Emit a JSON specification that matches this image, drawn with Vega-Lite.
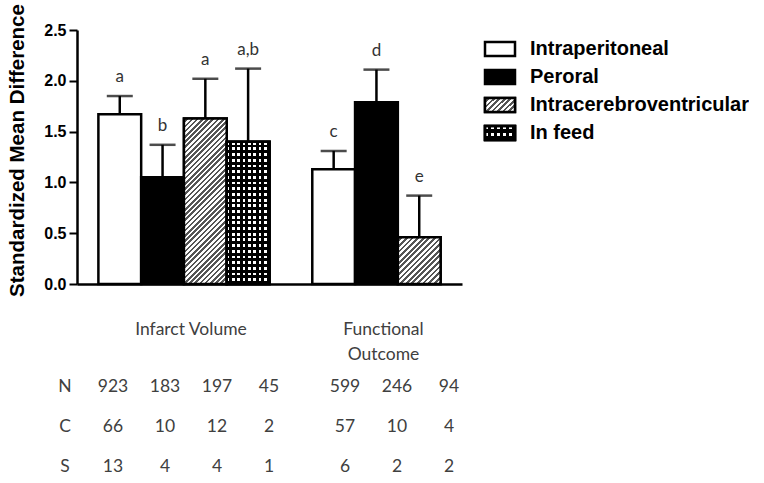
{
"$schema": "https://vega.github.io/schema/vega-lite/v6.json",
"padding": {"left": 7, "top": 3, "right": 0, "bottom": 0},
"background": "white",
"datasets": {
 "smd": [
  {"bar":"IV-IP","group":"Infarct Volume","route":"Intraperitoneal","smd":1.67,"upper":1.85,"letter":"a","N":923,"C":66,"S":13},
  {"bar":"IV-PO","group":"Infarct Volume","route":"Peroral","smd":1.05,"upper":1.37,"letter":"b","N":183,"C":10,"S":4},
  {"bar":"IV-ICV","group":"Infarct Volume","route":"Intracerebroventricular","smd":1.63,"upper":2.02,"letter":"a","N":197,"C":12,"S":4},
  {"bar":"IV-IF","group":"Infarct Volume","route":"In feed","smd":1.40,"upper":2.12,"letter":"a,b","N":45,"C":2,"S":1},
  {"bar":"FO-IP","group":"Functional Outcome","route":"Intraperitoneal","smd":1.13,"upper":1.31,"letter":"c","N":599,"C":57,"S":6},
  {"bar":"FO-PO","group":"Functional Outcome","route":"Peroral","smd":1.79,"upper":2.11,"letter":"d","N":246,"C":10,"S":2},
  {"bar":"FO-ICV","group":"Functional Outcome","route":"Intracerebroventricular","smd":0.46,"upper":0.87,"letter":"e","N":94,"C":4,"S":2}
 ],
 "headers": [
  {"group":"Infarct Volume","header":"Infarct Volume"},
  {"group":"Functional Outcome","header":"Functional\nOutcome"}
 ]
},
"columns": 2,
"spacing": {"row": 63, "column": -52},
"bounds": "flush",
"align": "none",
"resolve": {"scale": {"xOffset": "independent"}},
"concat": [
 {
  "width": 385,
  "height": 254,
  "data": {"name": "smd"},
  "encoding": {
   "x": {"field": "bar", "type": "nominal",
     "scale": {"type": "band", "domain": ["IV-IP","IV-PO","IV-ICV","IV-IF","gap","FO-IP","FO-PO","FO-ICV"], "paddingInner": 0, "paddingOuter": 0.5},
     "axis": {"title": null, "labels": false, "ticks": false, "domain": true, "domainColor": "#000", "domainWidth": 2.5, "grid": false}},
   "y": {"field": "smd", "type": "quantitative",
     "scale": {"domain": [0, 2.5], "nice": false},
     "axis": {"title": "Standardized Mean Difference", "values": [0, 0.5, 1, 1.5, 2, 2.5], "format": ".1f", "grid": false,
       "domainColor": "#000", "domainWidth": 2.5, "tickColor": "#000", "tickWidth": 2, "tickSize": 8,
       "labelFont": "Liberation Sans", "labelFontWeight": "bold", "labelFontSize": 16, "labelColor": "#000", "labelPadding": 3,
       "titleFont": "Liberation Sans", "titleFontWeight": "bold", "titleFontSize": 20.5, "titleColor": "#000", "titlePadding": 16, "titleY": 120}}
  },
  "layer": [
   {
    "mark": {"type": "bar", "stroke": "#000", "strokeWidth": 2.5},
    "encoding": {
     "fill": {"field": "route", "type": "nominal",
       "scale": {"domain": ["Intraperitoneal","Peroral","Intracerebroventricular","In feed"], "range": ["#ffffff","#000000","#ffffff","#000000"]},
       "legend": null}
    }
   },
   {
    "transform": [{"filter": "datum.bar === 'IV-ICV'"}],
    "mark": {"type": "bar", "stroke": "#000", "strokeWidth": 2.5,
     "fill": {"gradient": "linear", "x1": 0, "y1": 0, "x2": 0.3047, "y2": 1.1796, "stops": [
      {"offset":0,"color":"#fff"},
      {"offset":0.0125,"color":"#fff"},{"offset":0.0125,"color":"#555"},
      {"offset":0.025,"color":"#555"},{"offset":0.025,"color":"#fff"},
      {"offset":0.0375,"color":"#fff"},{"offset":0.0375,"color":"#555"},
      {"offset":0.05,"color":"#555"},{"offset":0.05,"color":"#fff"},
      {"offset":0.0625,"color":"#fff"},{"offset":0.0625,"color":"#555"},
      {"offset":0.075,"color":"#555"},{"offset":0.075,"color":"#fff"},
      {"offset":0.0875,"color":"#fff"},{"offset":0.0875,"color":"#555"},
      {"offset":0.1,"color":"#555"},{"offset":0.1,"color":"#fff"},
      {"offset":0.1125,"color":"#fff"},{"offset":0.1125,"color":"#555"},
      {"offset":0.125,"color":"#555"},{"offset":0.125,"color":"#fff"},
      {"offset":0.1375,"color":"#fff"},{"offset":0.1375,"color":"#555"},
      {"offset":0.15,"color":"#555"},{"offset":0.15,"color":"#fff"},
      {"offset":0.1625,"color":"#fff"},{"offset":0.1625,"color":"#555"},
      {"offset":0.175,"color":"#555"},{"offset":0.175,"color":"#fff"},
      {"offset":0.1875,"color":"#fff"},{"offset":0.1875,"color":"#555"},
      {"offset":0.2,"color":"#555"},{"offset":0.2,"color":"#fff"},
      {"offset":0.2125,"color":"#fff"},{"offset":0.2125,"color":"#555"},
      {"offset":0.225,"color":"#555"},{"offset":0.225,"color":"#fff"},
      {"offset":0.2375,"color":"#fff"},{"offset":0.2375,"color":"#555"},
      {"offset":0.25,"color":"#555"},{"offset":0.25,"color":"#fff"},
      {"offset":0.2625,"color":"#fff"},{"offset":0.2625,"color":"#555"},
      {"offset":0.275,"color":"#555"},{"offset":0.275,"color":"#fff"},
      {"offset":0.2875,"color":"#fff"},{"offset":0.2875,"color":"#555"},
      {"offset":0.3,"color":"#555"},{"offset":0.3,"color":"#fff"},
      {"offset":0.3125,"color":"#fff"},{"offset":0.3125,"color":"#555"},
      {"offset":0.325,"color":"#555"},{"offset":0.325,"color":"#fff"},
      {"offset":0.3375,"color":"#fff"},{"offset":0.3375,"color":"#555"},
      {"offset":0.35,"color":"#555"},{"offset":0.35,"color":"#fff"},
      {"offset":0.3625,"color":"#fff"},{"offset":0.3625,"color":"#555"},
      {"offset":0.375,"color":"#555"},{"offset":0.375,"color":"#fff"},
      {"offset":0.3875,"color":"#fff"},{"offset":0.3875,"color":"#555"},
      {"offset":0.4,"color":"#555"},{"offset":0.4,"color":"#fff"},
      {"offset":0.4125,"color":"#fff"},{"offset":0.4125,"color":"#555"},
      {"offset":0.425,"color":"#555"},{"offset":0.425,"color":"#fff"},
      {"offset":0.4375,"color":"#fff"},{"offset":0.4375,"color":"#555"},
      {"offset":0.45,"color":"#555"},{"offset":0.45,"color":"#fff"},
      {"offset":0.4625,"color":"#fff"},{"offset":0.4625,"color":"#555"},
      {"offset":0.475,"color":"#555"},{"offset":0.475,"color":"#fff"},
      {"offset":0.4875,"color":"#fff"},{"offset":0.4875,"color":"#555"},
      {"offset":0.5,"color":"#555"},{"offset":0.5,"color":"#fff"},
      {"offset":0.5125,"color":"#fff"},{"offset":0.5125,"color":"#555"},
      {"offset":0.525,"color":"#555"},{"offset":0.525,"color":"#fff"},
      {"offset":0.5375,"color":"#fff"},{"offset":0.5375,"color":"#555"},
      {"offset":0.55,"color":"#555"},{"offset":0.55,"color":"#fff"},
      {"offset":0.5625,"color":"#fff"},{"offset":0.5625,"color":"#555"},
      {"offset":0.575,"color":"#555"},{"offset":0.575,"color":"#fff"},
      {"offset":0.5875,"color":"#fff"},{"offset":0.5875,"color":"#555"},
      {"offset":0.6,"color":"#555"},{"offset":0.6,"color":"#fff"},
      {"offset":0.6125,"color":"#fff"},{"offset":0.6125,"color":"#555"},
      {"offset":0.625,"color":"#555"},{"offset":0.625,"color":"#fff"},
      {"offset":0.6375,"color":"#fff"},{"offset":0.6375,"color":"#555"},
      {"offset":0.65,"color":"#555"},{"offset":0.65,"color":"#fff"},
      {"offset":0.6625,"color":"#fff"},{"offset":0.6625,"color":"#555"},
      {"offset":0.675,"color":"#555"},{"offset":0.675,"color":"#fff"},
      {"offset":0.6875,"color":"#fff"},{"offset":0.6875,"color":"#555"},
      {"offset":0.7,"color":"#555"},{"offset":0.7,"color":"#fff"},
      {"offset":0.7125,"color":"#fff"},{"offset":0.7125,"color":"#555"},
      {"offset":0.725,"color":"#555"},{"offset":0.725,"color":"#fff"},
      {"offset":0.7375,"color":"#fff"},{"offset":0.7375,"color":"#555"},
      {"offset":0.75,"color":"#555"},{"offset":0.75,"color":"#fff"},
      {"offset":0.7625,"color":"#fff"},{"offset":0.7625,"color":"#555"},
      {"offset":0.775,"color":"#555"},{"offset":0.775,"color":"#fff"},
      {"offset":0.7875,"color":"#fff"},{"offset":0.7875,"color":"#555"},
      {"offset":0.8,"color":"#555"},{"offset":0.8,"color":"#fff"},
      {"offset":0.8125,"color":"#fff"},{"offset":0.8125,"color":"#555"},
      {"offset":0.825,"color":"#555"},{"offset":0.825,"color":"#fff"},
      {"offset":0.8375,"color":"#fff"},{"offset":0.8375,"color":"#555"},
      {"offset":0.85,"color":"#555"},{"offset":0.85,"color":"#fff"},
      {"offset":0.8625,"color":"#fff"},{"offset":0.8625,"color":"#555"},
      {"offset":0.875,"color":"#555"},{"offset":0.875,"color":"#fff"},
      {"offset":0.8875,"color":"#fff"},{"offset":0.8875,"color":"#555"},
      {"offset":0.9,"color":"#555"},{"offset":0.9,"color":"#fff"},
      {"offset":0.9125,"color":"#fff"},{"offset":0.9125,"color":"#555"},
      {"offset":0.925,"color":"#555"},{"offset":0.925,"color":"#fff"},
      {"offset":0.9375,"color":"#fff"},{"offset":0.9375,"color":"#555"},
      {"offset":0.95,"color":"#555"},{"offset":0.95,"color":"#fff"},
      {"offset":0.9625,"color":"#fff"},{"offset":0.9625,"color":"#555"},
      {"offset":0.975,"color":"#555"},{"offset":0.975,"color":"#fff"},
      {"offset":0.9875,"color":"#fff"},{"offset":0.9875,"color":"#555"},
      {"offset":1,"color":"#555"}]}}
   },
   {
    "transform": [{"filter": "datum.bar === 'FO-ICV'"}],
    "mark": {"type": "bar", "stroke": "#000", "strokeWidth": 2.5,
     "fill": {"gradient": "linear", "x1": 0, "y1": 0, "x2": 0.9539, "y2": 1.0422, "stops": [
      {"offset":0,"color":"#fff"},
      {"offset":0.03125,"color":"#fff"},{"offset":0.03125,"color":"#555"},
      {"offset":0.0625,"color":"#555"},{"offset":0.0625,"color":"#fff"},
      {"offset":0.09375,"color":"#fff"},{"offset":0.09375,"color":"#555"},
      {"offset":0.125,"color":"#555"},{"offset":0.125,"color":"#fff"},
      {"offset":0.15625,"color":"#fff"},{"offset":0.15625,"color":"#555"},
      {"offset":0.1875,"color":"#555"},{"offset":0.1875,"color":"#fff"},
      {"offset":0.21875,"color":"#fff"},{"offset":0.21875,"color":"#555"},
      {"offset":0.25,"color":"#555"},{"offset":0.25,"color":"#fff"},
      {"offset":0.28125,"color":"#fff"},{"offset":0.28125,"color":"#555"},
      {"offset":0.3125,"color":"#555"},{"offset":0.3125,"color":"#fff"},
      {"offset":0.34375,"color":"#fff"},{"offset":0.34375,"color":"#555"},
      {"offset":0.375,"color":"#555"},{"offset":0.375,"color":"#fff"},
      {"offset":0.40625,"color":"#fff"},{"offset":0.40625,"color":"#555"},
      {"offset":0.4375,"color":"#555"},{"offset":0.4375,"color":"#fff"},
      {"offset":0.46875,"color":"#fff"},{"offset":0.46875,"color":"#555"},
      {"offset":0.5,"color":"#555"},{"offset":0.5,"color":"#fff"},
      {"offset":0.53125,"color":"#fff"},{"offset":0.53125,"color":"#555"},
      {"offset":0.5625,"color":"#555"},{"offset":0.5625,"color":"#fff"},
      {"offset":0.59375,"color":"#fff"},{"offset":0.59375,"color":"#555"},
      {"offset":0.625,"color":"#555"},{"offset":0.625,"color":"#fff"},
      {"offset":0.65625,"color":"#fff"},{"offset":0.65625,"color":"#555"},
      {"offset":0.6875,"color":"#555"},{"offset":0.6875,"color":"#fff"},
      {"offset":0.71875,"color":"#fff"},{"offset":0.71875,"color":"#555"},
      {"offset":0.75,"color":"#555"},{"offset":0.75,"color":"#fff"},
      {"offset":0.78125,"color":"#fff"},{"offset":0.78125,"color":"#555"},
      {"offset":0.8125,"color":"#555"},{"offset":0.8125,"color":"#fff"},
      {"offset":0.84375,"color":"#fff"},{"offset":0.84375,"color":"#555"},
      {"offset":0.875,"color":"#555"},{"offset":0.875,"color":"#fff"},
      {"offset":0.90625,"color":"#fff"},{"offset":0.90625,"color":"#555"},
      {"offset":0.9375,"color":"#555"},{"offset":0.9375,"color":"#fff"},
      {"offset":0.96875,"color":"#fff"},{"offset":0.96875,"color":"#555"},
      {"offset":1,"color":"#555"}]}}
   },
   {
    "transform": [{"filter": "datum.bar === 'IV-IF'"}],
    "mark": {"type": "bar", "stroke": "#000", "strokeWidth": 2.5,
     "fill": {"gradient": "linear", "x1": 0, "y1": 0, "x2": 0, "y2": 1, "stops": [
      {"offset":0,"color":"#fff"},
      {"offset":0.02,"color":"#fff"},{"offset":0.02,"color":"#000"},
      {"offset":0.04,"color":"#000"},{"offset":0.04,"color":"#fff"},
      {"offset":0.06,"color":"#fff"},{"offset":0.06,"color":"#000"},
      {"offset":0.08,"color":"#000"},{"offset":0.08,"color":"#fff"},
      {"offset":0.1,"color":"#fff"},{"offset":0.1,"color":"#000"},
      {"offset":0.12,"color":"#000"},{"offset":0.12,"color":"#fff"},
      {"offset":0.14,"color":"#fff"},{"offset":0.14,"color":"#000"},
      {"offset":0.16,"color":"#000"},{"offset":0.16,"color":"#fff"},
      {"offset":0.18,"color":"#fff"},{"offset":0.18,"color":"#000"},
      {"offset":0.2,"color":"#000"},{"offset":0.2,"color":"#fff"},
      {"offset":0.22,"color":"#fff"},{"offset":0.22,"color":"#000"},
      {"offset":0.24,"color":"#000"},{"offset":0.24,"color":"#fff"},
      {"offset":0.26,"color":"#fff"},{"offset":0.26,"color":"#000"},
      {"offset":0.28,"color":"#000"},{"offset":0.28,"color":"#fff"},
      {"offset":0.3,"color":"#fff"},{"offset":0.3,"color":"#000"},
      {"offset":0.32,"color":"#000"},{"offset":0.32,"color":"#fff"},
      {"offset":0.34,"color":"#fff"},{"offset":0.34,"color":"#000"},
      {"offset":0.36,"color":"#000"},{"offset":0.36,"color":"#fff"},
      {"offset":0.38,"color":"#fff"},{"offset":0.38,"color":"#000"},
      {"offset":0.4,"color":"#000"},{"offset":0.4,"color":"#fff"},
      {"offset":0.42,"color":"#fff"},{"offset":0.42,"color":"#000"},
      {"offset":0.44,"color":"#000"},{"offset":0.44,"color":"#fff"},
      {"offset":0.46,"color":"#fff"},{"offset":0.46,"color":"#000"},
      {"offset":0.48,"color":"#000"},{"offset":0.48,"color":"#fff"},
      {"offset":0.5,"color":"#fff"},{"offset":0.5,"color":"#000"},
      {"offset":0.52,"color":"#000"},{"offset":0.52,"color":"#fff"},
      {"offset":0.54,"color":"#fff"},{"offset":0.54,"color":"#000"},
      {"offset":0.56,"color":"#000"},{"offset":0.56,"color":"#fff"},
      {"offset":0.58,"color":"#fff"},{"offset":0.58,"color":"#000"},
      {"offset":0.6,"color":"#000"},{"offset":0.6,"color":"#fff"},
      {"offset":0.62,"color":"#fff"},{"offset":0.62,"color":"#000"},
      {"offset":0.64,"color":"#000"},{"offset":0.64,"color":"#fff"},
      {"offset":0.66,"color":"#fff"},{"offset":0.66,"color":"#000"},
      {"offset":0.68,"color":"#000"},{"offset":0.68,"color":"#fff"},
      {"offset":0.7,"color":"#fff"},{"offset":0.7,"color":"#000"},
      {"offset":0.72,"color":"#000"},{"offset":0.72,"color":"#fff"},
      {"offset":0.74,"color":"#fff"},{"offset":0.74,"color":"#000"},
      {"offset":0.76,"color":"#000"},{"offset":0.76,"color":"#fff"},
      {"offset":0.78,"color":"#fff"},{"offset":0.78,"color":"#000"},
      {"offset":0.8,"color":"#000"},{"offset":0.8,"color":"#fff"},
      {"offset":0.82,"color":"#fff"},{"offset":0.82,"color":"#000"},
      {"offset":0.84,"color":"#000"},{"offset":0.84,"color":"#fff"},
      {"offset":0.86,"color":"#fff"},{"offset":0.86,"color":"#000"},
      {"offset":0.88,"color":"#000"},{"offset":0.88,"color":"#fff"},
      {"offset":0.9,"color":"#fff"},{"offset":0.9,"color":"#000"},
      {"offset":0.92,"color":"#000"},{"offset":0.92,"color":"#fff"},
      {"offset":0.94,"color":"#fff"},{"offset":0.94,"color":"#000"},
      {"offset":0.96,"color":"#000"},{"offset":0.96,"color":"#fff"},
      {"offset":0.98,"color":"#fff"},{"offset":0.98,"color":"#000"},
      {"offset":1,"color":"#000"}]}}
   },
   {
    "transform": [{"filter": "datum.bar === 'IV-IF'"}],
    "mark": {"type": "bar", "stroke": "#000", "strokeWidth": 2.5,
     "fill": {"gradient": "linear", "x1": 0, "y1": 0, "x2": 1, "y2": 0, "stops": [
      {"offset":0,"color":"rgba(0,0,0,0)"},
      {"offset":0.0625,"color":"rgba(0,0,0,0)"},{"offset":0.0625,"color":"#000"},
      {"offset":0.125,"color":"#000"},{"offset":0.125,"color":"rgba(0,0,0,0)"},
      {"offset":0.1875,"color":"rgba(0,0,0,0)"},{"offset":0.1875,"color":"#000"},
      {"offset":0.25,"color":"#000"},{"offset":0.25,"color":"rgba(0,0,0,0)"},
      {"offset":0.3125,"color":"rgba(0,0,0,0)"},{"offset":0.3125,"color":"#000"},
      {"offset":0.375,"color":"#000"},{"offset":0.375,"color":"rgba(0,0,0,0)"},
      {"offset":0.4375,"color":"rgba(0,0,0,0)"},{"offset":0.4375,"color":"#000"},
      {"offset":0.5,"color":"#000"},{"offset":0.5,"color":"rgba(0,0,0,0)"},
      {"offset":0.5625,"color":"rgba(0,0,0,0)"},{"offset":0.5625,"color":"#000"},
      {"offset":0.625,"color":"#000"},{"offset":0.625,"color":"rgba(0,0,0,0)"},
      {"offset":0.6875,"color":"rgba(0,0,0,0)"},{"offset":0.6875,"color":"#000"},
      {"offset":0.75,"color":"#000"},{"offset":0.75,"color":"rgba(0,0,0,0)"},
      {"offset":0.8125,"color":"rgba(0,0,0,0)"},{"offset":0.8125,"color":"#000"},
      {"offset":0.875,"color":"#000"},{"offset":0.875,"color":"rgba(0,0,0,0)"},
      {"offset":0.9375,"color":"rgba(0,0,0,0)"},{"offset":0.9375,"color":"#000"},
      {"offset":1,"color":"#000"}]}}
   },
   {
    "mark": {"type": "rule", "color": "#000", "strokeWidth": 2.5},
    "encoding": {"y2": {"field": "upper"}}
   },
   {
    "mark": {"type": "tick", "color": "#000", "size": 26, "thickness": 2.5},
    "encoding": {"y": {"field": "upper", "type": "quantitative"}}
   },
   {
    "mark": {"type": "text", "font": "Lato", "fontSize": 17, "color": "#333", "baseline": "alphabetic", "align": "center", "dy": -14},
    "encoding": {"y": {"field": "upper", "type": "quantitative"}, "text": {"field": "letter"}}
   }
  ]
 },
 {
  "width": 30,
  "height": 122,
  "data": {"name": "smd"},
  "transform": [{"aggregate": [{"op": "count", "as": "n"}], "groupby": ["route"]}],
  "encoding": {
   "y": {"field": "route", "type": "nominal", "scale": {"domain": ["Intraperitoneal","Peroral","Intracerebroventricular","In feed"], "paddingInner": 0, "paddingOuter": 0.1786}, "axis": null}
  },
  "layer": [
   {
    "mark": {"type": "bar", "height": 14, "stroke": "#000", "strokeWidth": 2.5},
    "encoding": {"fill": {"field": "route", "type": "nominal", "scale": {"domain": ["Intraperitoneal","Peroral","Intracerebroventricular","In feed"], "range": ["#ffffff","#000000","#ffffff","#000000"]}, "legend": null}}
   },
   {
    "transform": [{"filter": "datum.route === 'Intracerebroventricular'"}],
    "mark": {"type": "bar", "height": 14, "stroke": "#000", "strokeWidth": 2.5,
     "fill": {"gradient": "linear", "x1": 0, "y1": 0, "x2": 1.2042, "y2": 0.5627, "stops": [
      {"offset":0,"color":"#fff"},
      {"offset":0.0625,"color":"#fff"},{"offset":0.0625,"color":"#555"},
      {"offset":0.125,"color":"#555"},{"offset":0.125,"color":"#fff"},
      {"offset":0.1875,"color":"#fff"},{"offset":0.1875,"color":"#555"},
      {"offset":0.25,"color":"#555"},{"offset":0.25,"color":"#fff"},
      {"offset":0.3125,"color":"#fff"},{"offset":0.3125,"color":"#555"},
      {"offset":0.375,"color":"#555"},{"offset":0.375,"color":"#fff"},
      {"offset":0.4375,"color":"#fff"},{"offset":0.4375,"color":"#555"},
      {"offset":0.5,"color":"#555"},{"offset":0.5,"color":"#fff"},
      {"offset":0.5625,"color":"#fff"},{"offset":0.5625,"color":"#555"},
      {"offset":0.625,"color":"#555"},{"offset":0.625,"color":"#fff"},
      {"offset":0.6875,"color":"#fff"},{"offset":0.6875,"color":"#555"},
      {"offset":0.75,"color":"#555"},{"offset":0.75,"color":"#fff"},
      {"offset":0.8125,"color":"#fff"},{"offset":0.8125,"color":"#555"},
      {"offset":0.875,"color":"#555"},{"offset":0.875,"color":"#fff"},
      {"offset":0.9375,"color":"#fff"},{"offset":0.9375,"color":"#555"},
      {"offset":1,"color":"#555"}]}}
   },
   {
    "transform": [{"filter": "datum.route === 'In feed'"}],
    "mark": {"type": "bar", "height": 14, "stroke": "#000", "strokeWidth": 2.5,
     "fill": {"gradient": "linear", "x1": 0, "y1": 0, "x2": 0, "y2": 1, "stops": [
      {"offset":0,"color":"#fff"},
      {"offset":0.25,"color":"#fff"},{"offset":0.25,"color":"#000"},
      {"offset":0.5,"color":"#000"},{"offset":0.5,"color":"#fff"},
      {"offset":0.75,"color":"#fff"},{"offset":0.75,"color":"#000"},
      {"offset":1,"color":"#000"}]}}
   },
   {
    "transform": [{"filter": "datum.route === 'In feed'"}],
    "mark": {"type": "bar", "height": 14, "stroke": "#000", "strokeWidth": 2.5,
     "fill": {"gradient": "linear", "x1": 0, "y1": 0, "x2": 1, "y2": 0, "stops": [
      {"offset":0,"color":"rgba(0,0,0,0)"},
      {"offset":0.1,"color":"rgba(0,0,0,0)"},{"offset":0.1,"color":"#000"},
      {"offset":0.2,"color":"#000"},{"offset":0.2,"color":"rgba(0,0,0,0)"},
      {"offset":0.3,"color":"rgba(0,0,0,0)"},{"offset":0.3,"color":"#000"},
      {"offset":0.4,"color":"#000"},{"offset":0.4,"color":"rgba(0,0,0,0)"},
      {"offset":0.5,"color":"rgba(0,0,0,0)"},{"offset":0.5,"color":"#000"},
      {"offset":0.6,"color":"#000"},{"offset":0.6,"color":"rgba(0,0,0,0)"},
      {"offset":0.7,"color":"rgba(0,0,0,0)"},{"offset":0.7,"color":"#000"},
      {"offset":0.8,"color":"#000"},{"offset":0.8,"color":"rgba(0,0,0,0)"},
      {"offset":0.9,"color":"rgba(0,0,0,0)"},{"offset":0.9,"color":"#000"},
      {"offset":1,"color":"#000"}]}}
   },
   {
    "mark": {"type": "text", "align": "left", "baseline": "middle", "dx": 30, "font": "Liberation Sans", "fontWeight": "bold", "fontSize": 20, "color": "#000"},
    "encoding": {"text": {"field": "route"}}
   }
  ]
 },
 {
  "width": 460,
  "height": 120,
  "data": {"name": "smd"},
  "layer": [
   {
    "transform": [{"fold": ["N", "C", "S"], "as": ["stat", "count"]}],
    "mark": {"type": "text", "font": "Lato", "fontSize": 17.5, "color": "#404040", "baseline": "middle", "align": "center"},
    "encoding": {
     "x": {"field": "group", "type": "nominal", "scale": {"domain": ["Infarct Volume", "Functional Outcome"], "paddingInner": 0.1034, "paddingOuter": 0.0431}, "axis": null},
     "xOffset": {"field": "route", "type": "nominal", "scale": {"type": "point", "domain": ["Intraperitoneal","Peroral","Intracerebroventricular","In feed"], "padding": 0.5}},
     "y": {"field": "stat", "type": "nominal", "scale": {"type": "point", "domain": ["hdr", "N", "C", "S"], "padding": 0}, "axis": null},
     "text": {"field": "count", "type": "quantitative"}
    }
   },
   {
    "transform": [{"fold": ["N", "C", "S"], "as": ["stat", "count"]}, {"aggregate": [{"op": "count", "as": "n"}], "groupby": ["stat"]}],
    "mark": {"type": "text", "font": "Lato", "fontSize": 17.5, "color": "#404040", "baseline": "middle", "align": "center", "dx": -22},
    "encoding": {
     "x": {"datum": "Infarct Volume", "type": "nominal", "bandPosition": 0},
     "y": {"field": "stat", "type": "nominal"},
     "text": {"field": "stat"}
    }
   },
   {
    "data": {"name": "headers"},
    "transform": [{"filter": "datum.group === 'Infarct Volume'"}],
    "mark": {"type": "text", "font": "Lato", "fontSize": 17.5, "color": "#404040", "baseline": "top", "align": "center", "dy": -26, "lineBreak": "\n", "lineHeight": 25},
    "encoding": {
     "x": {"field": "group", "type": "nominal", "bandPosition": 0.5},
     "y": {"datum": "hdr", "type": "nominal"},
     "text": {"field": "header"}
    }
   },
   {
    "data": {"name": "headers"},
    "transform": [{"filter": "datum.group === 'Functional Outcome'"}],
    "mark": {"type": "text", "font": "Lato", "fontSize": 17.5, "color": "#404040", "baseline": "top", "align": "center", "dy": -26, "lineBreak": "\n", "lineHeight": 25},
    "encoding": {
     "x": {"field": "group", "type": "nominal", "bandPosition": 0.31},
     "y": {"datum": "hdr", "type": "nominal"},
     "text": {"field": "header"}
    }
   }
  ]
 }
],
"config": {"view": {"stroke": null}, "font": "Liberation Sans"}
}
